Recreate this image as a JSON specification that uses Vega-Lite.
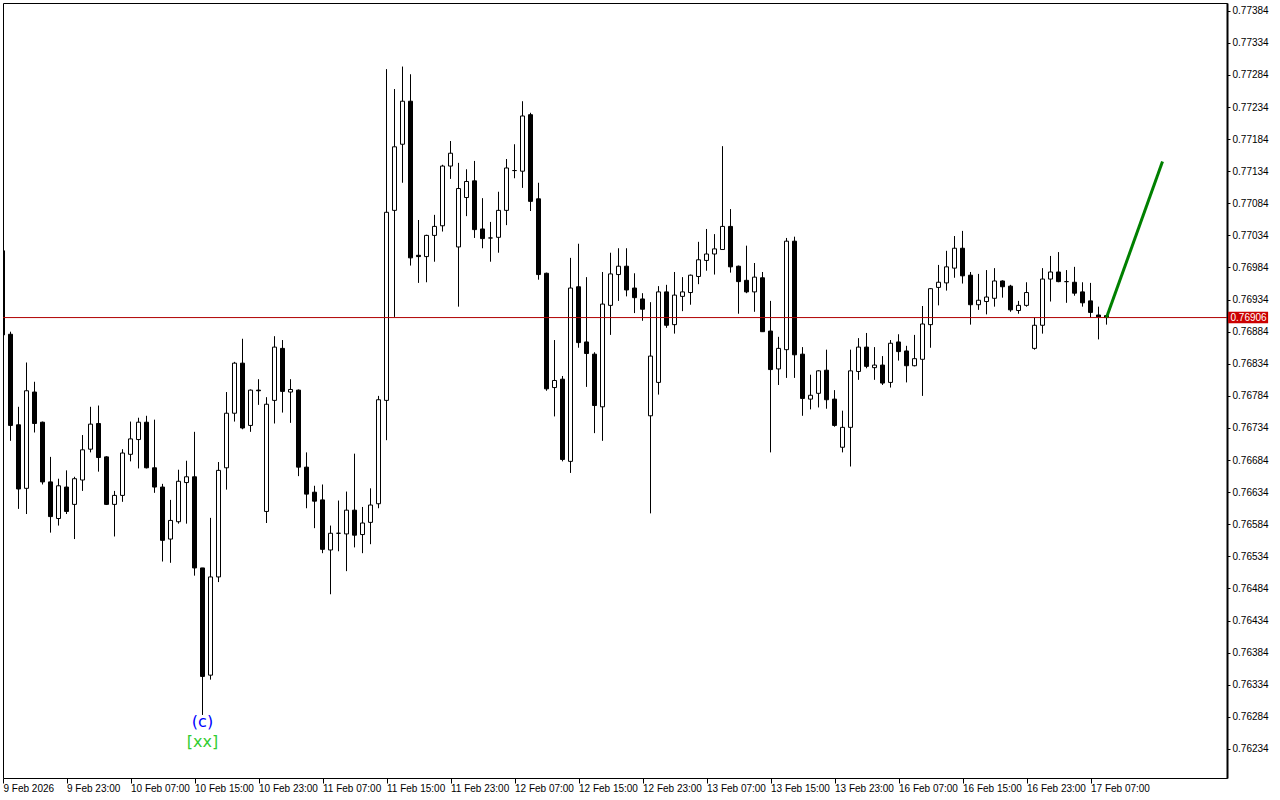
{
"$schema": "https://vega.github.io/schema/vega-lite/v6.json",
"width": 1224, "height": 775,
"autosize": {"type": "none"},
"padding": {"left": 3, "top": 3, "right": 53, "bottom": 22},
"background": "white",
"config": {"view": {"stroke": "black", "strokeWidth": 1}, "axis": {"labelFont": "Liberation Sans", "labelFontSize": 10, "labelColor": "black", "tickColor": "black", "grid": false, "labelOverlap": false, "labelSeparation": 0, "labelBound": false}},
"datasets": {
"candles": [
{"i":0,"o":0.77010,"h":0.77010,"l":0.76879,"c":0.76879},
{"i":1,"o":0.76880,"h":0.76884,"l":0.76714,"c":0.76738},
{"i":2,"o":0.76739,"h":0.76767,"l":0.76608,"c":0.76639},
{"i":3,"o":0.76640,"h":0.76836,"l":0.76600,"c":0.76792},
{"i":4,"o":0.76790,"h":0.76806,"l":0.76727,"c":0.76741},
{"i":5,"o":0.76743,"h":0.76744,"l":0.76646,"c":0.76650},
{"i":6,"o":0.76650,"h":0.76689,"l":0.76571,"c":0.76596},
{"i":7,"o":0.76593,"h":0.76655,"l":0.76582,"c":0.76644},
{"i":8,"o":0.76642,"h":0.76668,"l":0.76600,"c":0.76604},
{"i":9,"o":0.76615,"h":0.76658,"l":0.76561,"c":0.76655},
{"i":10,"o":0.76653,"h":0.76723,"l":0.76636,"c":0.76700},
{"i":11,"o":0.76701,"h":0.76767,"l":0.76696,"c":0.76740},
{"i":12,"o":0.76741,"h":0.76769,"l":0.76666,"c":0.76688},
{"i":13,"o":0.76689,"h":0.76690,"l":0.76614,"c":0.76615},
{"i":14,"o":0.76615,"h":0.76636,"l":0.76565,"c":0.76629},
{"i":15,"o":0.76629,"h":0.76701,"l":0.76619,"c":0.76695},
{"i":16,"o":0.76693,"h":0.76744,"l":0.76682,"c":0.76717},
{"i":17,"o":0.76716,"h":0.76750,"l":0.76671,"c":0.76743},
{"i":18,"o":0.76743,"h":0.76753,"l":0.76671,"c":0.76672},
{"i":19,"o":0.76672,"h":0.76747,"l":0.76633,"c":0.76642},
{"i":20,"o":0.76642,"h":0.76647,"l":0.76526,"c":0.76559},
{"i":21,"o":0.76561,"h":0.76622,"l":0.76524,"c":0.76590},
{"i":22,"o":0.76588,"h":0.76669,"l":0.76585,"c":0.76651},
{"i":23,"o":0.76649,"h":0.76683,"l":0.76585,"c":0.76658},
{"i":24,"o":0.76658,"h":0.76728,"l":0.76504,"c":0.76516},
{"i":25,"o":0.76516,"h":0.76516,"l":0.76287,"c":0.76347},
{"i":26,"o":0.76349,"h":0.76594,"l":0.76342,"c":0.76502},
{"i":27,"o":0.76502,"h":0.76681,"l":0.76494,"c":0.76668},
{"i":28,"o":0.76672,"h":0.76790,"l":0.76638,"c":0.76757},
{"i":29,"o":0.76757,"h":0.76837,"l":0.76744,"c":0.76835},
{"i":30,"o":0.76835,"h":0.76873,"l":0.76732,"c":0.76734},
{"i":31,"o":0.76738,"h":0.76794,"l":0.76728,"c":0.76793},
{"i":32,"o":0.76793,"h":0.76810,"l":0.76770,"c":0.76792},
{"i":33,"o":0.76604,"h":0.76782,"l":0.76586,"c":0.76771},
{"i":34,"o":0.76777,"h":0.76877,"l":0.76741,"c":0.76860},
{"i":35,"o":0.76858,"h":0.76871,"l":0.76758,"c":0.76791},
{"i":36,"o":0.76790,"h":0.76810,"l":0.76742,"c":0.76794},
{"i":37,"o":0.76793,"h":0.76794,"l":0.76659,"c":0.76673},
{"i":38,"o":0.76673,"h":0.76696,"l":0.76609,"c":0.76631},
{"i":39,"o":0.76634,"h":0.76644,"l":0.76578,"c":0.76620},
{"i":40,"o":0.76622,"h":0.76646,"l":0.76539,"c":0.76545},
{"i":41,"o":0.76544,"h":0.76582,"l":0.76475,"c":0.76570},
{"i":42,"o":0.76570,"h":0.76621,"l":0.76542,"c":0.76570},
{"i":43,"o":0.76569,"h":0.76635,"l":0.76511,"c":0.76606},
{"i":44,"o":0.76606,"h":0.76694,"l":0.76548,"c":0.76567},
{"i":45,"o":0.76568,"h":0.76611,"l":0.76539,"c":0.76586},
{"i":46,"o":0.76587,"h":0.76640,"l":0.76553,"c":0.76614},
{"i":47,"o":0.76616,"h":0.76784,"l":0.76609,"c":0.76778},
{"i":48,"o":0.76777,"h":0.77293,"l":0.76715,"c":0.77070},
{"i":49,"o":0.77073,"h":0.77262,"l":0.76907,"c":0.77172},
{"i":50,"o":0.77176,"h":0.77297,"l":0.77116,"c":0.77243},
{"i":51,"o":0.77243,"h":0.77285,"l":0.76987,"c":0.76999},
{"i":52,"o":0.77003,"h":0.77058,"l":0.76960,"c":0.77001},
{"i":53,"o":0.77001,"h":0.77035,"l":0.76961,"c":0.77034},
{"i":54,"o":0.77034,"h":0.77066,"l":0.76993,"c":0.77048},
{"i":55,"o":0.77049,"h":0.77144,"l":0.77040,"c":0.77142},
{"i":56,"o":0.77142,"h":0.77181,"l":0.77122,"c":0.77162},
{"i":57,"o":0.77016,"h":0.77147,"l":0.76923,"c":0.77107},
{"i":58,"o":0.77093,"h":0.77137,"l":0.77064,"c":0.77118},
{"i":59,"o":0.77119,"h":0.77150,"l":0.77030,"c":0.77043},
{"i":60,"o":0.77044,"h":0.77092,"l":0.77014,"c":0.77029},
{"i":61,"o":0.77030,"h":0.77055,"l":0.76993,"c":0.77030},
{"i":62,"o":0.77031,"h":0.77102,"l":0.77007,"c":0.77073},
{"i":63,"o":0.77073,"h":0.77153,"l":0.77050,"c":0.77139},
{"i":64,"o":0.77135,"h":0.77176,"l":0.77123,"c":0.77135},
{"i":65,"o":0.77134,"h":0.77243,"l":0.77108,"c":0.77220},
{"i":66,"o":0.77222,"h":0.77225,"l":0.77072,"c":0.77087},
{"i":67,"o":0.77091,"h":0.77116,"l":0.76965,"c":0.76973},
{"i":68,"o":0.76975,"h":0.76976,"l":0.76792,"c":0.76795},
{"i":69,"o":0.76797,"h":0.76871,"l":0.76752,"c":0.76808},
{"i":70,"o":0.76810,"h":0.76815,"l":0.76682,"c":0.76685},
{"i":71,"o":0.76682,"h":0.76999,"l":0.76664,"c":0.76952},
{"i":72,"o":0.76954,"h":0.77021,"l":0.76859,"c":0.76867},
{"i":73,"o":0.76868,"h":0.76969,"l":0.76798,"c":0.76850},
{"i":74,"o":0.76849,"h":0.76852,"l":0.76726,"c":0.76769},
{"i":75,"o":0.76767,"h":0.76977,"l":0.76714,"c":0.76927},
{"i":76,"o":0.76925,"h":0.77007,"l":0.76879,"c":0.76974},
{"i":77,"o":0.76973,"h":0.77014,"l":0.76932,"c":0.76986},
{"i":78,"o":0.76986,"h":0.77014,"l":0.76939,"c":0.76949},
{"i":79,"o":0.76952,"h":0.76975,"l":0.76913,"c":0.76937},
{"i":80,"o":0.76935,"h":0.76944,"l":0.76901,"c":0.76919},
{"i":81,"o":0.76753,"h":0.76930,"l":0.76601,"c":0.76846},
{"i":82,"o":0.76805,"h":0.76955,"l":0.76786,"c":0.76946},
{"i":83,"o":0.76946,"h":0.76957,"l":0.76890,"c":0.76894},
{"i":84,"o":0.76895,"h":0.76977,"l":0.76881,"c":0.76941},
{"i":85,"o":0.76939,"h":0.76969,"l":0.76916,"c":0.76946},
{"i":86,"o":0.76945,"h":0.76973,"l":0.76926,"c":0.76972},
{"i":87,"o":0.76970,"h":0.77024,"l":0.76958,"c":0.76996},
{"i":88,"o":0.76995,"h":0.77044,"l":0.76979,"c":0.77005},
{"i":89,"o":0.77005,"h":0.77036,"l":0.76973,"c":0.77013},
{"i":90,"o":0.77012,"h":0.77173,"l":0.77012,"c":0.77048},
{"i":91,"o":0.77048,"h":0.77075,"l":0.76976,"c":0.76985},
{"i":92,"o":0.76986,"h":0.76987,"l":0.76912,"c":0.76962},
{"i":93,"o":0.76964,"h":0.77018,"l":0.76944,"c":0.76946},
{"i":94,"o":0.76946,"h":0.76991,"l":0.76915,"c":0.76969},
{"i":95,"o":0.76968,"h":0.76977,"l":0.76884,"c":0.76884},
{"i":96,"o":0.76885,"h":0.76932,"l":0.76696,"c":0.76825},
{"i":97,"o":0.76826,"h":0.76876,"l":0.76801,"c":0.76858},
{"i":98,"o":0.76856,"h":0.77030,"l":0.76812,"c":0.77025},
{"i":99,"o":0.77025,"h":0.77032,"l":0.76812,"c":0.76848},
{"i":100,"o":0.76849,"h":0.76860,"l":0.76753,"c":0.76780},
{"i":101,"o":0.76779,"h":0.76817,"l":0.76763,"c":0.76785},
{"i":102,"o":0.76788,"h":0.76824,"l":0.76766,"c":0.76823},
{"i":103,"o":0.76824,"h":0.76856,"l":0.76764,"c":0.76778},
{"i":104,"o":0.76779,"h":0.76793,"l":0.76736,"c":0.76738},
{"i":105,"o":0.76704,"h":0.76761,"l":0.76696,"c":0.76735},
{"i":106,"o":0.76735,"h":0.76856,"l":0.76674,"c":0.76823},
{"i":107,"o":0.76822,"h":0.76874,"l":0.76809,"c":0.76860},
{"i":108,"o":0.76860,"h":0.76882,"l":0.76827,"c":0.76830},
{"i":109,"o":0.76828,"h":0.76860,"l":0.76809,"c":0.76832},
{"i":110,"o":0.76832,"h":0.76846,"l":0.76801,"c":0.76804},
{"i":111,"o":0.76805,"h":0.76871,"l":0.76797,"c":0.76866},
{"i":112,"o":0.76868,"h":0.76880,"l":0.76839,"c":0.76853},
{"i":113,"o":0.76854,"h":0.76862,"l":0.76805,"c":0.76831},
{"i":114,"o":0.76831,"h":0.76879,"l":0.76830,"c":0.76842},
{"i":115,"o":0.76841,"h":0.76924,"l":0.76784,"c":0.76896},
{"i":116,"o":0.76895,"h":0.76952,"l":0.76859,"c":0.76951},
{"i":117,"o":0.76953,"h":0.76988,"l":0.76925,"c":0.76961},
{"i":118,"o":0.76960,"h":0.77010,"l":0.76948,"c":0.76985},
{"i":119,"o":0.76983,"h":0.77033,"l":0.76968,"c":0.77014},
{"i":120,"o":0.77014,"h":0.77041,"l":0.76959,"c":0.76971},
{"i":121,"o":0.76972,"h":0.76977,"l":0.76895,"c":0.76926},
{"i":122,"o":0.76926,"h":0.76974,"l":0.76918,"c":0.76933},
{"i":123,"o":0.76931,"h":0.76980,"l":0.76911,"c":0.76938},
{"i":124,"o":0.76936,"h":0.76983,"l":0.76923,"c":0.76963},
{"i":125,"o":0.76963,"h":0.76964,"l":0.76937,"c":0.76954},
{"i":126,"o":0.76955,"h":0.76957,"l":0.76915,"c":0.76918},
{"i":127,"o":0.76917,"h":0.76932,"l":0.76912,"c":0.76925},
{"i":128,"o":0.76925,"h":0.76961,"l":0.76923,"c":0.76945},
{"i":129,"o":0.76858,"h":0.76906,"l":0.76856,"c":0.76894},
{"i":130,"o":0.76894,"h":0.76983,"l":0.76881,"c":0.76966},
{"i":131,"o":0.76966,"h":0.77002,"l":0.76931,"c":0.76977},
{"i":132,"o":0.76977,"h":0.77008,"l":0.76961,"c":0.76962},
{"i":133,"o":0.76962,"h":0.76980,"l":0.76929,"c":0.76962},
{"i":134,"o":0.76961,"h":0.76985,"l":0.76940,"c":0.76944},
{"i":135,"o":0.76946,"h":0.76961,"l":0.76923,"c":0.76929},
{"i":136,"o":0.76932,"h":0.76960,"l":0.76906,"c":0.76914},
{"i":137,"o":0.76910,"h":0.76923,"l":0.76872,"c":0.76907},
{"i":138,"o":0.76909,"h":0.76909,"l":0.76895,"c":0.76906}
],
"proj": [{"i":138,"p":0.76906},{"i":145,"p":0.77149}],
"last": [{"p":0.76906,"i0":153.2,"i1":158.2,"top":0.76915,"bot":0.76897,"ti":153.5,"label":"0.76906"}],
"notes": [{"i":25,"p":0.76276,"label":"(c)"},{"i":25,"p":0.76245,"label":"[xx]"}]
},
"layer": [
{
"data": {"name": "candles"},
"mark": {"type": "rule", "color": "black", "strokeWidth": 1, "clip": true},
"encoding": {
"x": {"field": "i", "type": "quantitative", "scale": {"domain": [0.0625, 153.0625], "nice": false, "zero": false, "padding": 0},
 "axis": {"title": null, "tickCount": 40, "values": [0.0625,8,16,24,32,40,48,56,64,72,80,88,96,104,112,120,128,136], "labelExpr": "['9 Feb 2026','9 Feb 23:00','10 Feb 07:00','10 Feb 15:00','10 Feb 23:00','11 Feb 07:00','11 Feb 15:00','11 Feb 23:00','12 Feb 07:00','12 Feb 15:00','12 Feb 23:00','13 Feb 07:00','13 Feb 15:00','13 Feb 23:00','16 Feb 07:00','16 Feb 15:00','16 Feb 23:00','17 Feb 07:00'][round(datum.value/8)]", "labelAlign": "left", "labelDx": 1, "labelBaseline": "top", "labelPadding": 0, "tickSize": 5, "domain": false, "labelOverlap": false, "labelFlush": false}},
"y": {"field": "l", "type": "quantitative", "scale": {"domain": [0.761888, 0.77396], "nice": false, "zero": false, "padding": 0},
 "axis": {"title": null, "orient": "right", "tickCount": 40, "values": [0.76234,0.76284,0.76334,0.76384,0.76434,0.76484,0.76534,0.76584,0.76634,0.76684,0.76734,0.76784,0.76834,0.76884,0.76934,0.76984,0.77034,0.77084,0.77134,0.77184,0.77234,0.77284,0.77334,0.77384], "format": ".5f", "tickSize": 3, "labelPadding": 2, "domainColor": "black", "domainWidth": 2, "labelOverlap": false, "labelFlush": false}},
"y2": {"field": "h"}
}
},
{
"data": {"name": "candles"},
"mark": {"type": "bar", "width": 4, "stroke": "black", "strokeWidth": 1, "clip": true},
"encoding": {
"x": {"field": "i", "type": "quantitative"},
"y": {"field": "o", "type": "quantitative"},
"y2": {"field": "c"},
"fill": {"condition": {"test": "datum.c >= datum.o", "value": "white"}, "value": "black"}
}
},
{
"data": {"name": "last"},
"mark": {"type": "rule", "color": "#b00000", "strokeWidth": 1},
"encoding": {
"y": {"field": "p", "type": "quantitative"}
}
},
{
"data": {"name": "proj"},
"mark": {"type": "line", "color": "#008000", "strokeWidth": 3},
"encoding": {
"x": {"field": "i", "type": "quantitative"},
"y": {"field": "p", "type": "quantitative"}
}
},
{
"data": {"name": "notes"},
"mark": {"type": "text", "font": "DejaVu Sans", "fontSize": 16, "align": "center", "baseline": "middle"},
"encoding": {
"x": {"field": "i", "type": "quantitative"},
"y": {"field": "p", "type": "quantitative"},
"text": {"field": "label"},
"color": {"field": "label", "type": "nominal", "scale": {"domain": ["(c)", "[xx]"], "range": ["#0000ff", "#32cd32"]}, "legend": null}
}
},
{
"data": {"name": "last"},
"mark": {"type": "rect", "color": "#cc0000", "clip": false},
"encoding": {
"x": {"field": "i0", "type": "quantitative"},
"x2": {"field": "i1"},
"y": {"field": "top", "type": "quantitative"},
"y2": {"field": "bot"}
}
},
{
"data": {"name": "last"},
"mark": {"type": "text", "color": "white", "font": "Liberation Sans", "fontSize": 10, "align": "left", "baseline": "middle", "clip": false},
"encoding": {
"x": {"field": "ti", "type": "quantitative"},
"y": {"field": "p", "type": "quantitative"},
"text": {"field": "label"}
}
}
]
}
